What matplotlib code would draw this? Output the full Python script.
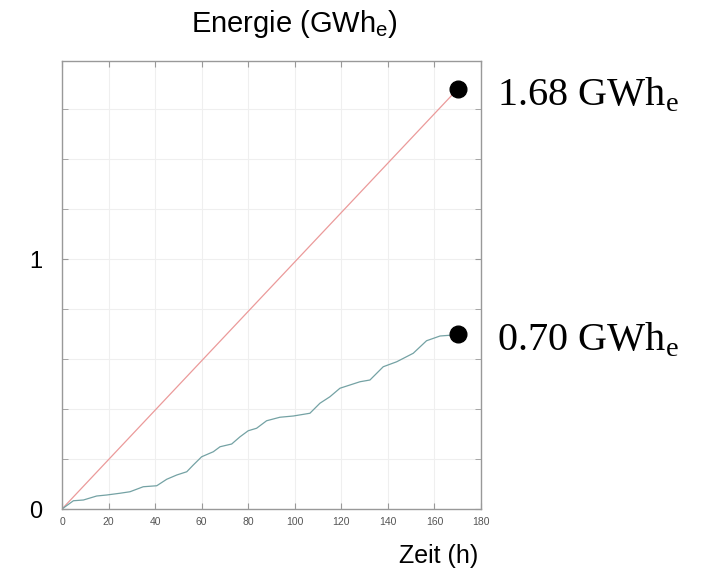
import matplotlib
matplotlib.use("Agg")
import matplotlib.pyplot as plt
from matplotlib.ticker import MultipleLocator

plt.rcParams['mathtext.fontset'] = 'custom'
plt.rcParams['mathtext.rm'] = 'Liberation Serif'
plt.rcParams['mathtext.sf'] = 'Liberation Sans'

# data
gen_hours = [0, 170]
gen_energy = [0.0, 1.68]

use_hours = [0, 4.9, 9.2, 14.9, 19.2, 24.9, 29.2, 34.9, 40.7, 45.0, 49.3, 53.6,
             56.4, 60.0, 65.0, 67.9, 72.9, 76.5, 80.0, 83.6, 87.9, 93.6, 99.4,
             106.5, 110.8, 115.1, 119.4, 128.0, 132.3, 138.0, 143.8, 150.9,
             156.6, 162.4, 168.1, 170.0]
use_energy = [0.0, 0.033, 0.036, 0.052, 0.056, 0.063, 0.069, 0.089, 0.093, 0.119,
              0.136, 0.149, 0.176, 0.209, 0.229, 0.249, 0.26, 0.289, 0.313, 0.323,
              0.353, 0.367, 0.372, 0.383, 0.423, 0.449, 0.483, 0.509, 0.516, 0.569,
              0.589, 0.623, 0.673, 0.692, 0.696, 0.70]

end_labels = ["1.68 GWh$_\\mathrm{e}$", "0.70 GWh$_\\mathrm{e}$"]
x_ticks = [0, 20, 40, 60, 80, 100, 120, 140, 160, 180]
y_ticks = [0, 1]

fig = plt.figure(figsize=(7.04, 5.73), dpi=100)
ax = fig.add_axes([62/704, 1-509/573, 419/704, 448/573])

ax.plot(gen_hours, gen_energy, color='#eb9a9a', lw=0.9)
ax.plot(use_hours, use_energy, color='#74a2a4', lw=0.9)

ax.plot([gen_hours[-1]], [gen_energy[-1]], 'o', color='black', ms=12)
ax.plot([use_hours[-1]], [use_energy[-1]], 'o', color='black', ms=12)

for lab, xv, yv in [(end_labels[0], gen_hours[-1], gen_energy[-1]),
                    (end_labels[1], use_hours[-1], use_energy[-1])]:
    ax.annotate(lab, xy=(xv, yv), xytext=(39, -16), textcoords='offset pixels',
                fontsize=29, family='Liberation Serif', va='baseline', ha='left',
                annotation_clip=False)

ax.set_xlim(0, 180)
ax.set_ylim(0, 1.792)
ax.set_xticks(x_ticks)
ax.set_yticks(y_ticks)
ax.yaxis.set_minor_locator(MultipleLocator(0.2))
ax.grid(True, which='both', color='#efefef', lw=0.8)
ax.set_axisbelow(True)

ax.tick_params(axis='both', which='both', direction='in', top=True, right=True,
               color='#999999', length=4)
ax.tick_params(axis='x', labelsize=7.5, labelcolor='#555555', pad=6)
ax.tick_params(axis='y', labelsize=17, labelcolor='black', pad=14, length=4)
for lab in ax.get_yticklabels():
    lab.set_family('Liberation Sans')
for lab in ax.get_xticklabels():
    lab.set_family('Liberation Sans')
for s in ax.spines.values():
    s.set_color('#999999')
    s.set_linewidth(1.0)

fig.text(294/704, 1-24/573, "Energie (GWh$_\\mathsf{e}$)", ha='center', va='center',
         fontsize=21, family='Liberation Sans')
fig.text(439/704, 1-556/573, "Zeit (h)", ha='center', va='center',
         fontsize=18, family='Liberation Sans')

fig.savefig("out.png", dpi=100)
